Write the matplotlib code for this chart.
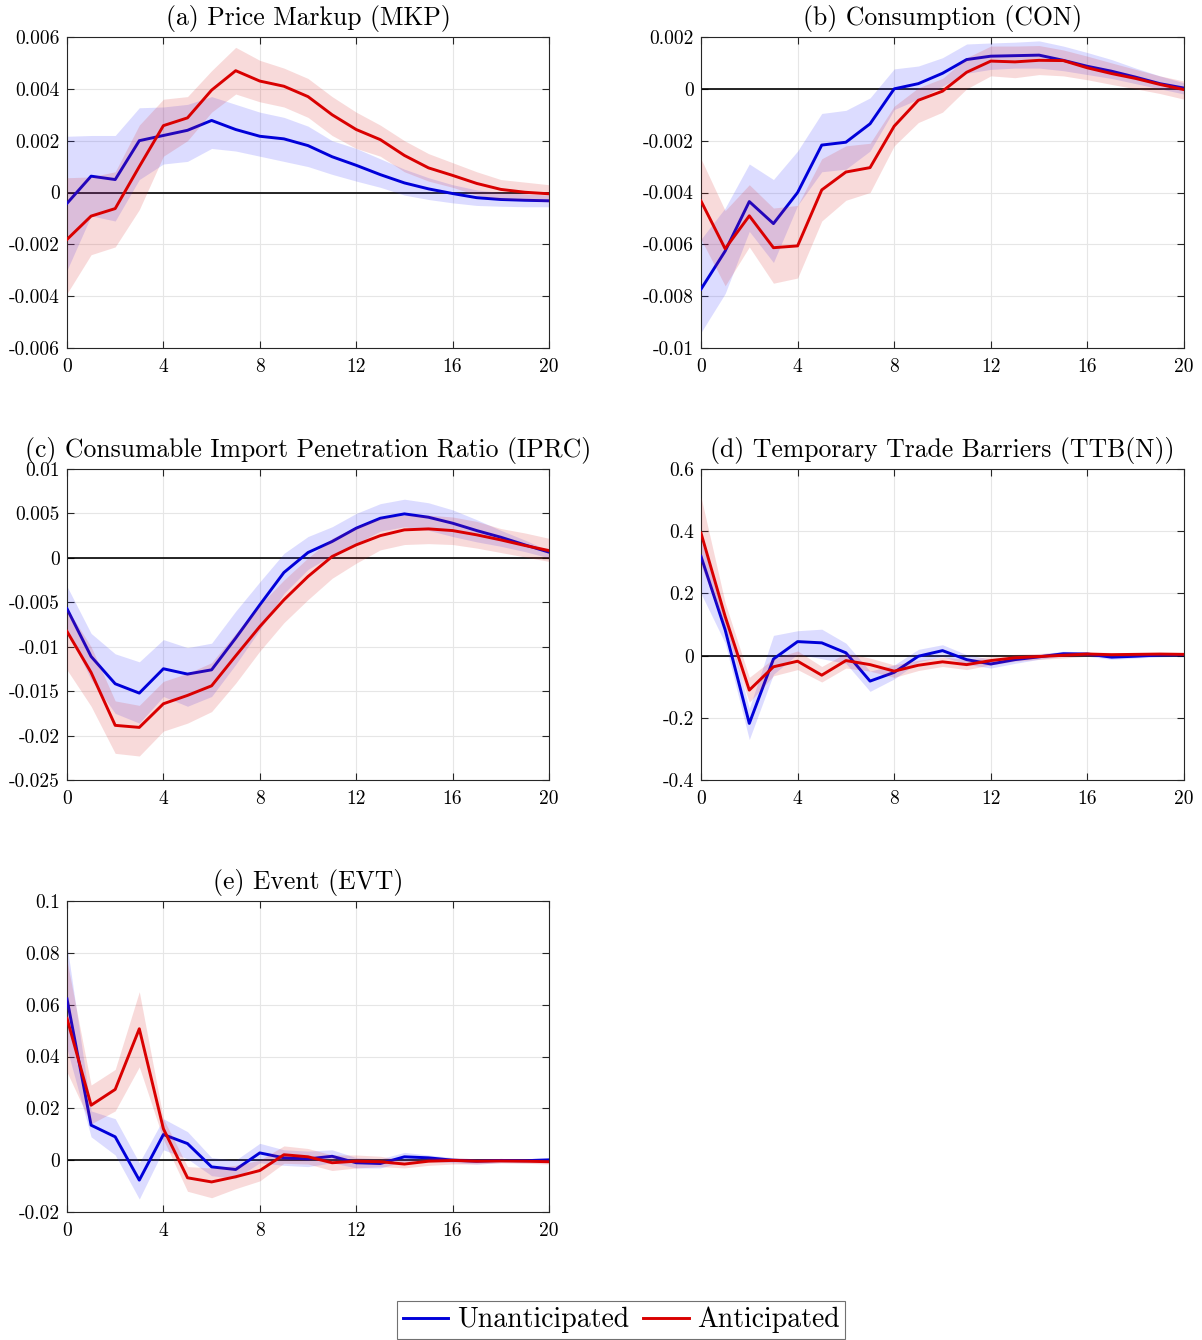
import numpy as np
import matplotlib
matplotlib.use("Agg")
import matplotlib.pyplot as plt
from matplotlib.lines import Line2D

plt.rcParams['font.family'] = ['cmr10', 'DejaVu Serif']
plt.rcParams['axes.unicode_minus'] = False
plt.rcParams['mathtext.fontset'] = 'cm'

horizon = list(range(21))

# ---------------- (a) Price Markup ----------------
a_unant = [-0.00042, 0.00063, 0.0005, 0.0020, 0.0022, 0.0024, 0.00278, 0.00243, 0.00217, 0.00207, 0.00181,
           0.00138, 0.00105, 0.00069, 0.00037, 0.00014, -0.00004, -0.0002, -0.00027, -0.0003, -0.00032]
a_unant_hi = [0.00217, 0.0022, 0.0022, 0.00327, 0.0033, 0.0034, 0.0037, 0.0034, 0.0031, 0.0029, 0.00256,
              0.002, 0.0017, 0.0013, 0.0009, 0.00057, 0.0003, 0.0001, 0.0, -0.00005, -0.0001]
a_unant_lo = [-0.003, -0.0009, -0.0011, 0.0005, 0.0011, 0.0012, 0.0017, 0.0016, 0.0014, 0.0012, 0.001,
              0.0007, 0.00044, 0.0002, -0.0001, -0.00027, -0.0004, -0.0005, -0.00053, -0.00055, -0.00055]
a_ant = [-0.00181, -0.00091, -0.00062, 0.001, 0.00258, 0.00288, 0.00395, 0.0047, 0.0043, 0.0041, 0.0037,
         0.003, 0.00243, 0.00204, 0.00143, 0.00095, 0.00066, 0.00035, 0.00012, 0.00001, -0.00005]
a_ant_hi = [0.00057, 0.0006, 0.0008, 0.0026, 0.0036, 0.0037, 0.0047, 0.0056, 0.0051, 0.0048, 0.0044,
            0.0037, 0.0031, 0.0026, 0.002, 0.0015, 0.00115, 0.0008, 0.0005, 0.0004, 0.0003]
a_ant_lo = [-0.0039, -0.0024, -0.0021, -0.00066, 0.0014, 0.002, 0.0031, 0.0038, 0.0035, 0.0033, 0.0029,
            0.0022, 0.0017, 0.0014, 0.0008, 0.00044, 0.0002, -0.0001, -0.00027, -0.0003, -0.00037]
a_yticks = [-0.006, -0.004, -0.002, 0, 0.002, 0.004, 0.006]
a_yticklabels = ['-0.006', '-0.004', '-0.002', '0', '0.002', '0.004', '0.006']

# ---------------- (b) Consumption ----------------
b_unant = [-0.00773, -0.00626, -0.00435, -0.0052, -0.004, -0.00217, -0.00206, -0.00135, 0.0, 0.0002, 0.0006,
           0.00113, 0.00126, 0.00128, 0.0013, 0.0011, 0.00087, 0.00068, 0.00045, 0.0002, 0.00003]
b_unant_hi = [-0.0058, -0.0046, -0.0029, -0.0035, -0.0024, -0.00095, -0.00083, -0.00035, 0.00077, 0.00088, 0.0012,
              0.00173, 0.00177, 0.0018, 0.00185, 0.00165, 0.0014, 0.00113, 0.0008, 0.0005, 0.00023]
b_unant_lo = [-0.0094, -0.0079, -0.0055, -0.0067, -0.0045, -0.0032, -0.0031, -0.0024, -0.0008, -0.0004, 0.0001,
              0.0006, 0.00075, 0.0008, 0.0008, 0.0007, 0.00055, 0.0004, 0.0002, 0.0, -0.0002]
b_ant = [-0.00433, -0.00617, -0.0049, -0.00613, -0.00606, -0.0039, -0.00321, -0.00304, -0.00144, -0.00044, -0.00009,
         0.00064, 0.00107, 0.00104, 0.0011, 0.00109, 0.00081, 0.00059, 0.0004, 0.00017, -0.00003]
b_ant_hi = [-0.0027, -0.0047, -0.0037, -0.0046, -0.0045, -0.0027, -0.0022, -0.0021, -0.00067, 0.00004, 0.0004,
            0.0012, 0.00165, 0.00165, 0.00167, 0.0015, 0.00126, 0.001, 0.00075, 0.0005, 0.0003]
b_ant_lo = [-0.0058, -0.0076, -0.0061, -0.0075, -0.0073, -0.0051, -0.0043, -0.004, -0.0022, -0.0013, -0.0009,
            0.0, 0.0005, 0.00043, 0.00055, 0.0005, 0.00035, 0.00017, 0.0, -0.00018, -0.0004]
b_yticks = [-0.01, -0.008, -0.006, -0.004, -0.002, 0, 0.002]
b_yticklabels = ['-0.01', '-0.008', '-0.006', '-0.004', '-0.002', '0', '0.002']

# ---------------- (c) Consumable Import Penetration Ratio ----------------
c_unant = [-0.00573, -0.0111, -0.01417, -0.01522, -0.01248, -0.01308, -0.0126, -0.00903, -0.00529, -0.00165, 0.0006,
           0.00184, 0.00334, 0.00446, 0.00495, 0.00457, 0.0039, 0.00307, 0.00232, 0.00146, 0.00064]
c_unant_hi = [-0.0032, -0.0085, -0.0108, -0.0117, -0.0092, -0.0101, -0.0096, -0.006, -0.0027, 0.0005, 0.0024,
              0.0035, 0.005, 0.0061, 0.0066, 0.0062, 0.0054, 0.0043, 0.0031, 0.002, 0.0008]
c_unant_lo = [-0.0081, -0.0137, -0.0175, -0.0186, -0.0156, -0.0167, -0.0156, -0.012, -0.0081, -0.004, -0.0013,
              0.0003, 0.0016, 0.003, 0.0035, 0.0031, 0.0024, 0.0018, 0.0013, 0.0007, 0.0]
c_ant = [-0.00828, -0.0129, -0.01885, -0.01908, -0.01642, -0.01548, -0.0144, -0.01103, -0.00773, -0.00473, -0.0021,
         0.00015, 0.00146, 0.0025, 0.00315, 0.00326, 0.00307, 0.00259, 0.00202, 0.00139, 0.00082]
c_ant_hi = [-0.0057, -0.01, -0.0161, -0.0166, -0.0139, -0.013, -0.0118, -0.0085, -0.0053, -0.0025, 0.0,
            0.0022, 0.0035, 0.0045, 0.0048, 0.0048, 0.0046, 0.0041, 0.0033, 0.0028, 0.0022]
c_ant_lo = [-0.0126, -0.0167, -0.022, -0.0223, -0.0195, -0.0186, -0.0173, -0.0141, -0.0105, -0.0073, -0.0047,
            -0.0023, -0.0006, 0.0009, 0.0015, 0.0016, 0.0015, 0.0011, 0.0006, 0.0001, -0.0004]
c_yticks = [-0.025, -0.02, -0.015, -0.01, -0.005, 0, 0.005, 0.01]
c_yticklabels = ['-0.025', '-0.02', '-0.015', '-0.01', '-0.005', '0', '0.005', '0.01']

# ---------------- (d) Temporary Trade Barriers ----------------
d_unant = [0.319, 0.083, -0.218, -0.011, 0.045, 0.041, 0.009, -0.082, -0.054, -0.002, 0.016,
           -0.013, -0.027, -0.013, -0.004, 0.006, 0.005, -0.005, -0.002, 0.002, 0.003]
d_unant_hi = [0.37, 0.13, -0.17, 0.065, 0.08, 0.085, 0.04, -0.05, -0.03, 0.02, 0.035,
              0.003, -0.012, -0.002, 0.005, 0.014, 0.012, 0.003, 0.005, 0.008, 0.008]
d_unant_lo = [0.2, 0.04, -0.27, -0.06, 0.005, -0.01, -0.025, -0.115, -0.075, -0.02, -0.003,
              -0.028, -0.04, -0.025, -0.012, -0.002, -0.002, -0.012, -0.008, -0.004, -0.002]
d_ant = [0.394, 0.126, -0.111, -0.036, -0.018, -0.063, -0.016, -0.029, -0.05, -0.031, -0.02,
         -0.029, -0.016, -0.007, -0.003, 0.001, 0.005, 0.003, 0.004, 0.005, 0.004]
d_ant_hi = [0.51, 0.17, -0.07, -0.01, 0.015, -0.035, 0.008, -0.008, -0.03, -0.015, -0.005,
            -0.012, -0.003, 0.004, 0.007, 0.01, 0.012, 0.01, 0.01, 0.01, 0.009]
d_ant_lo = [0.29, 0.09, -0.15, -0.065, -0.045, -0.085, -0.04, -0.05, -0.07, -0.048, -0.035,
            -0.045, -0.03, -0.018, -0.012, -0.008, -0.002, -0.004, -0.002, 0.0, 0.0]
d_yticks = [-0.4, -0.2, 0, 0.2, 0.4, 0.6]
d_yticklabels = ['-0.4', '-0.2', '0', '0.2', '0.4', '0.6']

# ---------------- (e) Event ----------------
e_unant = [0.0622, 0.0135, 0.009, -0.0077, 0.0099, 0.0064, -0.0026, -0.0036, 0.0028, 0.0009, 0.0005,
           0.0015, -0.001, -0.0013, 0.0013, 0.0009, 0.0, -0.0004, -0.0001, -0.0002, 0.0001]
e_unant_hi = [0.083, 0.019, 0.016, -0.001, 0.016, 0.011, 0.001, 0.0, 0.0065, 0.004, 0.0035,
              0.004, 0.001, 0.0005, 0.003, 0.002, 0.001, 0.0005, 0.0005, 0.0005, 0.001]
e_unant_lo = [0.043, 0.009, 0.002, -0.015, 0.004, 0.0005, -0.006, -0.007, -0.001, -0.002, -0.0025,
              -0.001, -0.003, -0.003, -0.0005, -0.0005, -0.001, -0.0015, -0.001, -0.001, -0.001]
e_ant = [0.0547, 0.0212, 0.0273, 0.0507, 0.0121, -0.0068, -0.0084, -0.0064, -0.004, 0.0021, 0.0013,
         -0.001, -0.0004, -0.0006, -0.0015, -0.0004, -0.0001, -0.0004, -0.0003, -0.0004, -0.0006]
e_ant_hi = [0.077, 0.029, 0.035, 0.065, 0.016, -0.0025, -0.003, -0.002, 0.0, 0.0055, 0.0045,
            0.002, 0.002, 0.0015, 0.0, 0.001, 0.001, 0.0005, 0.0005, 0.0005, 0.0003]
e_ant_lo = [0.034, 0.014, 0.019, 0.036, 0.008, -0.012, -0.0145, -0.011, -0.008, -0.0012, -0.0015,
            -0.004, -0.003, -0.0025, -0.003, -0.002, -0.0015, -0.0015, -0.001, -0.0012, -0.0015]
e_yticks = [-0.02, 0, 0.02, 0.04, 0.06, 0.08, 0.1]
e_yticklabels = ['-0.02', '0', '0.02', '0.04', '0.06', '0.08', '0.1']

titles = ['(a) Price Markup (MKP)', '(b) Consumption (CON)',
          '(c) Consumable Import Penetration Ratio (IPRC)',
          '(d) Temporary Trade Barriers (TTB(N))', '(e) Event (EVT)']
xticks = [0, 4, 8, 12, 16, 20]
xticklabels = ['0', '4', '8', '12', '16', '20']
legend_labels = ['Unanticipated', 'Anticipated']

BLUE = (0.0, 0.0, 0.85)
RED = (0.85, 0.0, 0.0)

W, H = 1202, 1340
fig = plt.figure(figsize=(W / 100, H / 100), dpi=100)


def px_axes(l, t, r, b):
    return fig.add_axes([l / W, 1 - b / H, (r - l) / W, (b - t) / H])


panels = [
    (px_axes(67, 37, 549, 348), a_unant, a_unant_lo, a_unant_hi, a_ant, a_ant_lo, a_ant_hi, a_yticks, a_yticklabels),
    (px_axes(701, 37, 1184, 348), b_unant, b_unant_lo, b_unant_hi, b_ant, b_ant_lo, b_ant_hi, b_yticks, b_yticklabels),
    (px_axes(67, 469, 549, 780), c_unant, c_unant_lo, c_unant_hi, c_ant, c_ant_lo, c_ant_hi, c_yticks, c_yticklabels),
    (px_axes(701, 469, 1184, 780), d_unant, d_unant_lo, d_unant_hi, d_ant, d_ant_lo, d_ant_hi, d_yticks, d_yticklabels),
    (px_axes(67, 901, 549, 1212), e_unant, e_unant_lo, e_unant_hi, e_ant, e_ant_lo, e_ant_hi, e_yticks, e_yticklabels),
]

for (ax, u, ulo, uhi, an, alo, ahi, yt, ytl), title in zip(panels, titles):
    ax.axhline(0, color='black', lw=1.2, zorder=1)
    ax.fill_between(horizon, ulo, uhi, color=(0.2, 0.2, 1.0), alpha=0.17, lw=0, zorder=2)
    ax.plot(horizon, u, color=BLUE, lw=2.1, zorder=3)
    ax.fill_between(horizon, alo, ahi, color=(0.85, 0.15, 0.15), alpha=0.17, lw=0, zorder=4)
    ax.plot(horizon, an, color=RED, lw=2.1, zorder=5)
    ax.set_xlim(0, 20)
    ax.set_ylim(yt[0], yt[-1])
    ax.set_xticks(xticks)
    ax.set_xticklabels(xticklabels)
    ax.set_yticks(yt)
    ax.set_yticklabels(ytl)
    ax.grid(True, color=(0.9, 0.9, 0.9), lw=0.8, zorder=0)
    ax.set_axisbelow(True)
    ax.tick_params(direction='in', top=True, right=True, length=5, width=0.8,
                   labelsize=14, colors=(0.15, 0.15, 0.15), pad=5)
    ax.tick_params(axis='x', pad=7)
    for lab in ax.get_xticklabels() + ax.get_yticklabels():
        lab.set_color('black')
    for sp in ax.spines.values():
        sp.set_color((0.15, 0.15, 0.15))
        sp.set_linewidth(0.8)
    ax.set_title(title, fontsize=18.5, pad=9)

handles = [Line2D([0], [0], color=BLUE, lw=2.1), Line2D([0], [0], color=RED, lw=2.1)]
leg = fig.legend(handles, legend_labels, loc='center', bbox_to_anchor=(621 / W, 1 - 1320 / H),
                 ncol=2, fontsize=20, frameon=True, fancybox=False, handlelength=1.65,
                 handletextpad=0.3, columnspacing=0.5, borderpad=0.2, borderaxespad=0)
leg.get_frame().set_edgecolor((0.3, 0.3, 0.3))
leg.get_frame().set_linewidth(0.8)

fig.savefig('out.png', dpi=100)
